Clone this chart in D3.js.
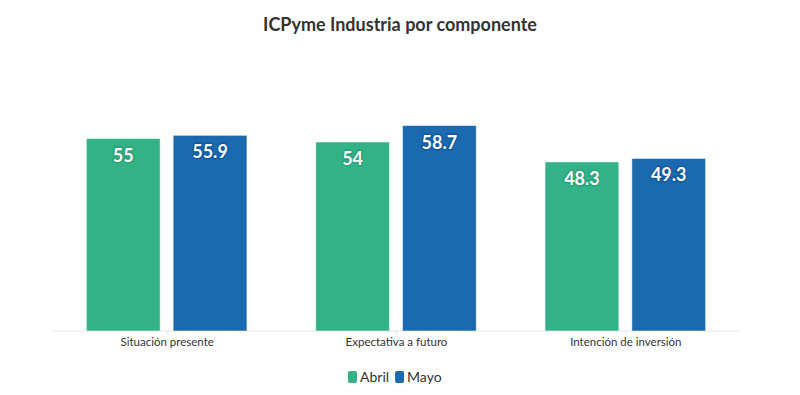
<!DOCTYPE html>
<html><head><meta charset="utf-8">
<script src="https://cdn.jsdelivr.net/npm/d3@7"></script>
<style>body{margin:0;background:#fff}svg{display:block}</style>
</head><body>
<svg id="c" width="800" height="395"></svg>
<script>
const categories = ["Situación presente", "Expectativa a futuro", "Intención de inversión"];
const seriesNames = ["Abril", "Mayo"];
const abril = [55, 54, 48.3];
const mayo = [55.9, 58.7, 49.3];
const title = "ICPyme Industria por componente";

const colors = {Abril: "#34b287", Mayo: "#1b6aaf"};
const halo = {Abril: "#2aa277", Mayo: "#0f58a0"};
const font = "Lato, 'Open Sans', sans-serif";

const svg = d3.select("#c");
const W = 800, H = 395;
const m = {left: 52, right: 60, top: 51, bottom: 64};
const x0 = d3.scaleBand().domain(categories).range([m.left, W - m.right]).paddingInner(0.3).paddingOuter(0.15);
const x1 = d3.scaleBand().domain(seriesNames).range([0, x0.bandwidth()]).paddingInner(0.15);
const y = d3.scaleLinear().domain([0, 80]).range([H - m.bottom, m.top]);

const data = categories.map((c, i) => ({cat: c, vals: [{s: "Abril", v: abril[i]}, {s: "Mayo", v: mayo[i]}]}));

svg.append("text").attr("x", W/2).attr("y", 31).attr("text-anchor", "middle")
  .attr("font-family", font).attr("font-weight", "bold").attr("font-size", 18).attr("fill", "#333")
  .text(title);

// axis
const xAxis = d3.axisBottom(d3.scalePoint().domain(categories).range([x0(categories[0]) + x0.bandwidth()/2, x0(categories[2]) + x0.bandwidth()/2])).tickSize(4).tickSizeOuter(0);
const ax = svg.append("g").attr("transform", `translate(0,${y(0)})`);
ax.append("line").attr("x1", m.left).attr("x2", W - m.right).attr("stroke", "#e6e6e6").attr("stroke-width", 1);
const axG = ax.append("g").call(xAxis);
axG.select(".domain").remove();
axG.selectAll(".tick line").attr("stroke", "#e6e6e6");
axG.selectAll(".tick text").attr("font-family", font).attr("font-size", 11.5).attr("fill", "#333").attr("dy", "0.95em").attr("y", 4);

const g = svg.selectAll("g.grp").data(data).join("g").attr("class", "grp")
  .attr("transform", d => `translate(${x0(d.cat)},0)`);
g.selectAll("rect").data(d => d.vals).join("rect")
  .attr("x", d => x1(d.s)).attr("width", x1.bandwidth())
  .attr("y", d => y(d.v)).attr("height", d => y(0) - y(d.v))
  .attr("fill", d => colors[d.s]).attr("stroke", "rgba(255,255,255,0.5)").attr("stroke-width", 1);
g.selectAll("text.lbl").data(d => d.vals).join("text").attr("class", "lbl")
  .attr("x", d => x1(d.s) + x1.bandwidth()/2).attr("y", d => y(d.v) + 23)
  .attr("text-anchor", "middle").attr("font-family", font).attr("font-weight", "bold").attr("font-size", 18)
  .attr("fill", "#fff").attr("stroke", d => halo[d.s]).attr("stroke-width", 3).attr("paint-order", "stroke")
  .attr("stroke-linejoin", "round")
  .text(d => d.v);

// legend
const lg = svg.append("g").attr("transform", "translate(348,371)");
let lx = 0;
seriesNames.forEach(s => {
  const it = lg.append("g").attr("transform", `translate(${lx},0)`);
  it.append("rect").attr("width", 9).attr("height", 12).attr("rx", 2).attr("fill", colors[s]);
  const t = it.append("text").attr("x", 12).attr("y", 11).attr("font-family", font).attr("font-size", 14).attr("fill", "#333").text(s);
  lx += 12 + t.node().getComputedTextLength() + 6;
});
</script>
</body></html>
